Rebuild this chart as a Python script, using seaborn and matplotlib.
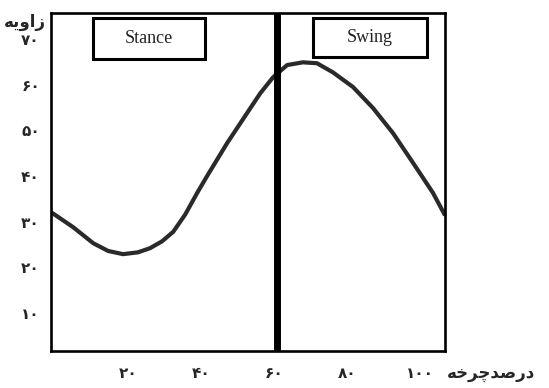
import numpy as np
import pandas as pd
import matplotlib
matplotlib.use("Agg")
import matplotlib.pyplot as plt
import seaborn as sns
from matplotlib.patches import Rectangle

# values
cycle_pct = [-1.3, 4.8, 10.3, 14.4, 18.5, 22.6, 25.9, 29.2, 32.3, 35.6, 38.8,
             41.6, 47.1, 52.6, 56.2, 59.7, 63.6, 67.9, 71.8, 76.2, 81.7, 87.2,
             92.7, 98.2, 103.7, 107.0]
angle = [32.1, 28.8, 25.3, 23.6, 22.9, 23.3, 24.2, 25.7, 27.8, 31.6, 36.2,
         40.0, 47.2, 53.8, 58.1, 61.6, 64.3, 64.9, 64.7, 62.7, 59.5, 54.9,
         49.4, 42.9, 36.3, 31.4]

x_ticks = [20, 40, 60, 80, 100]
x_tick_labels = ["۲۰", "۴۰", "۶۰", "۸۰", "۱۰۰"]
y_ticks = [10, 20, 30, 40, 50, 60, 70]
y_tick_labels = ["۱۰", "۲۰", "۳۰", "۴۰", "۵۰", "۶۰", "۷۰"]

stance_end = 60.8
phase_names = ["Stance", "Swing"]

# Persian labels, written in presentation forms (visual order) since
# matplotlib does no arabic shaping
y_label = "\uFEEA\uFBFE\uFEED\uFE8D\uFEAF"                      # زاویه
x_label = "\uFEEA\uFEA7\uFEAE\uFB7C\uFEAA\uFEBB\uFEAD\uFEA9"    # درصدچرخه

df = pd.DataFrame({"cycle": cycle_pct, "angle": angle})

sns.set_theme(style="white")
plt.rcParams["font.family"] = ["DejaVu Sans"]

fig = plt.figure(figsize=(5.49, 3.88), dpi=100)
ax = fig.add_axes([0.0929, 0.0954, 0.7177, 0.8711])

sns.lineplot(data=df, x="cycle", y="angle", color="#2a2a2a", linewidth=3,
             solid_joinstyle="round", solid_capstyle="butt", ax=ax)

# stance / swing divider
ax.axvline(stance_end, color="black", linewidth=5)

# phase boxes
boxes = [(10.3, 65.6, 30.7, 8.9), (70.7, 66.0, 31.3, 8.5)]
for (bx, by, bw, bh), name in zip(boxes, phase_names):
    ax.add_patch(Rectangle((bx, by), bw, bh, fill=False, edgecolor="black",
                           linewidth=2.2, zorder=4))
    ax.text(bx + bw / 2, by + bh / 2, name, ha="center", va="center",
            family="Liberation Serif", fontsize=13, color="#222222", zorder=5)

ax.set_xlim(-1.3, 107)
ax.set_ylim(1.7, 75.7)
ax.set_xticks(x_ticks)
ax.set_xticklabels(x_tick_labels, fontsize=11, fontweight="bold")
ax.set_yticks(y_ticks)
ax.set_yticklabels(y_tick_labels, fontsize=11, fontweight="bold")
ax.tick_params(axis="x", length=0, pad=11)
ax.tick_params(axis="y", length=0, pad=8)
ax.set_xlabel("")
ax.set_ylabel("")

for sp in ax.spines.values():
    sp.set_color("black")
    sp.set_linewidth(1.9)

fig.text(25 / 549, 1 - 22 / 388, y_label, ha="center", va="center",
         fontsize=12, fontweight="bold")
fig.text(447 / 549, 1 - 373 / 388, x_label, ha="left", va="center",
         fontsize=12, fontweight="bold")

fig.savefig("out.png", dpi=100)
